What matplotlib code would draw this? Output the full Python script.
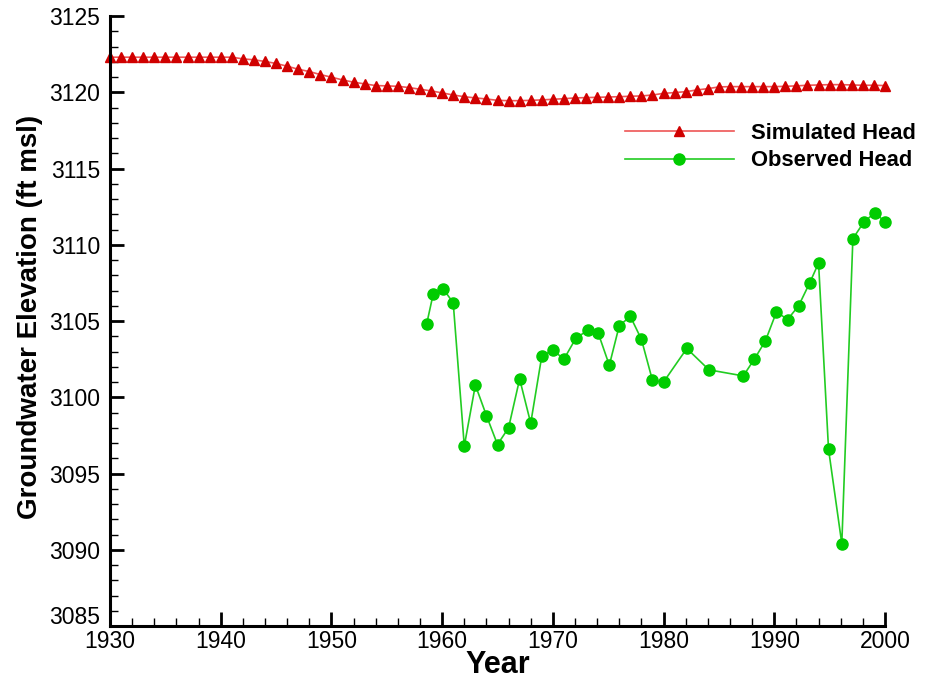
import numpy as np
import matplotlib.pyplot as plt
from matplotlib.ticker import MultipleLocator, FuncFormatter

# simulated head, yearly 1930-2000
sim_years = list(range(1930, 2001))
sim_head = [3122.30] * 12 + [
    3122.19, 3122.13, 3122.02, 3121.89, 3121.71, 3121.51, 3121.36, 3121.16,
    3120.99, 3120.81, 3120.66, 3120.55, 3120.44, 3120.42, 3120.39, 3120.31,
    3120.20, 3120.09, 3119.96, 3119.82, 3119.71, 3119.63, 3119.56, 3119.47,
    3119.45, 3119.45, 3119.47, 3119.50, 3119.54, 3119.58, 3119.63, 3119.65,
    3119.67, 3119.69, 3119.71, 3119.74, 3119.76, 3119.82, 3119.93, 3119.98,
    3120.04, 3120.15, 3120.24, 3120.35, 3120.37, 3120.37, 3120.37, 3120.37,
    3120.37, 3120.39, 3120.42, 3120.46, 3120.48, 3120.50, 3120.50, 3120.48,
    3120.46, 3120.46, 3120.44]

# observed head
obs_years = [1958.6, 1959.2, 1960.1, 1961, 1962, 1963, 1964, 1965, 1966, 1967,
             1968, 1969, 1970, 1971, 1972.1, 1973.2, 1974.1, 1975.1, 1976, 1977,
             1978, 1979, 1980, 1982.1, 1984.1, 1987.2, 1988.2, 1989.2, 1990.2,
             1991.2, 1992.2, 1993.2, 1994, 1994.9, 1996.1, 1997.1, 1998.1,
             1999.1, 2000]
obs_head = [3104.8, 3106.8, 3107.1, 3106.2, 3096.8, 3100.8, 3098.8, 3096.9,
            3098.0, 3101.2, 3098.3, 3102.7, 3103.1, 3102.5, 3103.9, 3104.4,
            3104.2, 3102.1, 3104.7, 3105.3, 3103.8, 3101.1, 3101.0, 3103.2,
            3101.8, 3101.4, 3102.5, 3103.7, 3105.6, 3105.1, 3106.0, 3107.5,
            3108.8, 3096.6, 3090.4, 3110.4, 3111.5, 3112.1, 3111.5]

fam = ["Liberation Sans", "DejaVu Sans"]
ymin, ymax = 3085, 3125

fig = plt.figure(figsize=(9.46, 6.85), dpi=100)
ax = fig.add_axes([0.1163, 0.0861, 0.8192, 0.8905])

ax.plot(sim_years, sim_head, color="#ee5555", lw=1.2, marker="^",
        ms=6.5, mfc="#d00000", mec="#d00000", label="Simulated Head", clip_on=False)
ax.plot(obs_years, obs_head, color="#22cc22", lw=1.2, marker="o",
        ms=8, mfc="#00cc00", mec="#00cc00", label="Observed Head", clip_on=False)

ax.set_xlim(1930, 2000)
ax.set_ylim(ymin, ymax)
ax.xaxis.set_major_locator(MultipleLocator(10))
ax.xaxis.set_minor_locator(MultipleLocator(2))
ax.yaxis.set_major_locator(MultipleLocator(5))
ax.yaxis.set_minor_locator(MultipleLocator(1))
# bottom y label is drawn by hand, nudged up so it clears the x labels
ax.yaxis.set_major_formatter(FuncFormatter(lambda v, p: "" if v == ymin else "%d" % v))

for s in ["top", "right"]:
    ax.spines[s].set_visible(False)
for s in ["left", "bottom"]:
    ax.spines[s].set_linewidth(2.2)

ax.tick_params(which="major", direction="in", length=10, width=2)
ax.tick_params(which="minor", direction="in", length=6, width=1)
ax.tick_params(axis="y", pad=7)
ax.tick_params(axis="x", pad=3)
for lab in ax.get_xticklabels() + ax.get_yticklabels():
    lab.set_family(fam)
    lab.set_fontsize(16.5)

ax.annotate("%d" % ymin, xy=(0, ymin), xycoords=("axes fraction", "data"),
            xytext=(-7, 6), textcoords="offset points", ha="right", va="center",
            family=fam, fontsize=16.5)

ax.set_xlabel("Year", family=fam, fontsize=22, fontweight="bold", va="center")
ax.xaxis.set_label_coords(0.5, -0.064)
ax.set_ylabel("Groundwater Elevation (ft msl)", family=fam,
              fontsize=20, fontweight="bold", va="center")
ax.yaxis.set_label_coords(-0.103, 0.507)

leg = ax.legend(loc="upper left", bbox_to_anchor=(0.664, 0.825), frameon=False,
                handlelength=5.0, handletextpad=0.75, labelspacing=0.3,
                borderaxespad=0, borderpad=0,
                prop={"family": fam, "size": 15.8, "weight": "bold"},
                numpoints=1)

plt.savefig("out.png", dpi=100)
